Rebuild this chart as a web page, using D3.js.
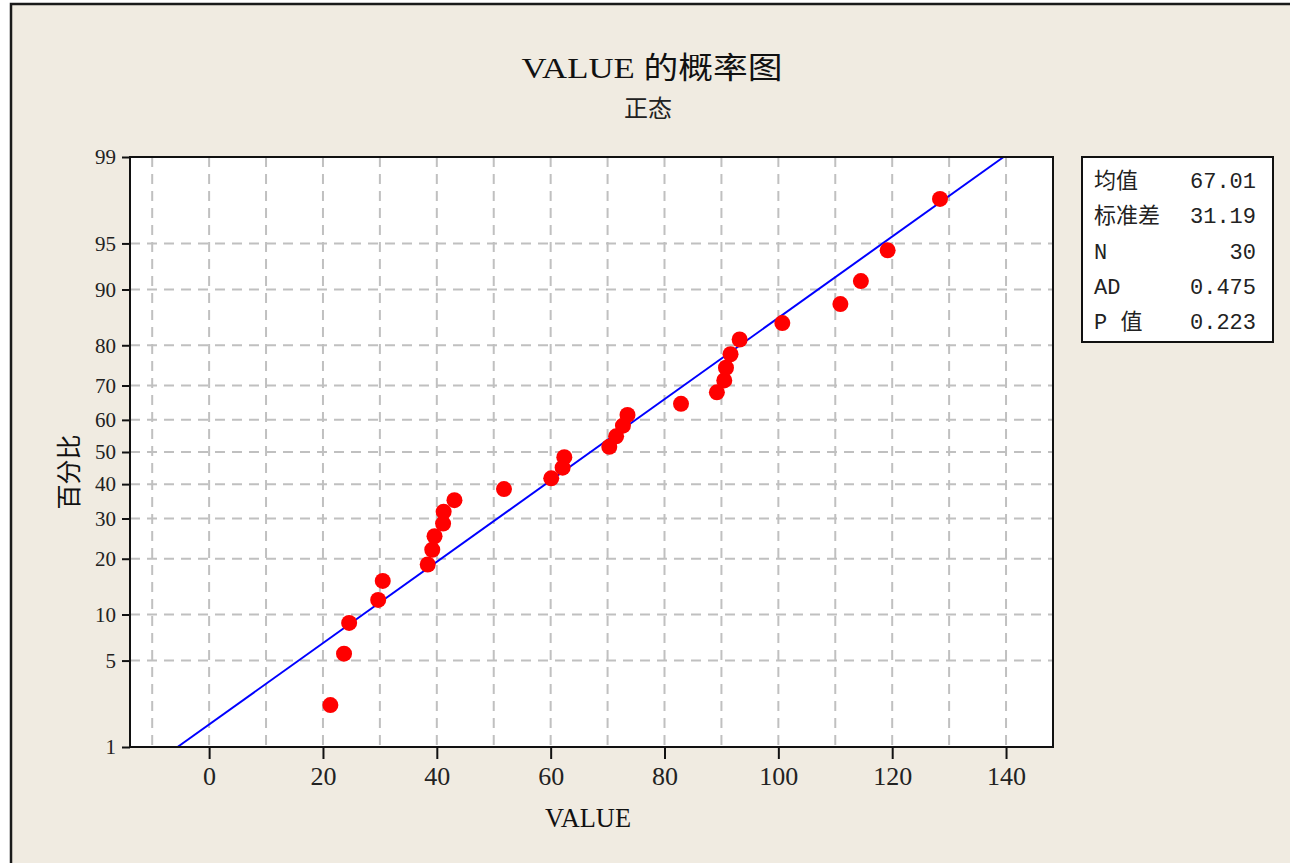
<!DOCTYPE html>
<html>
<head>
<meta charset="utf-8">
<script src="https://cdn.jsdelivr.net/npm/d3@7"></script>
<style>
  body { margin: 0; background: #fff; }
  svg { display: block; }
</style>
</head>
<body>
<div id="chart"></div>
<script>
const values = [21.3, 23.7, 24.6, 29.7, 30.5, 38.4, 39.2, 39.6, 41.1, 41.2,
                43.1, 51.8, 60.1, 62.1, 62.4, 70.3, 71.5, 72.7, 73.5, 82.9,
                89.2, 90.5, 90.8, 91.6, 93.2, 100.7, 110.9, 114.5, 119.2, 128.4];
// plotted percentages (median ranks)
const percents = [2.30, 5.59, 8.88, 12.17, 15.46, 18.75, 22.04, 25.33, 28.62, 31.91,
                  35.20, 38.49, 41.78, 45.07, 48.36, 51.64, 54.93, 58.22, 61.51, 64.80,
                  68.09, 71.38, 74.67, 77.96, 81.25, 84.54, 87.83, 91.12, 94.41, 97.70];
const xTicks = [0, 20, 40, 60, 80, 100, 120, 140];
const xGrid = [-10, 0, 10, 20, 30, 40, 50, 60, 70, 80, 90, 100, 110, 120, 130, 140];
const yTicks = [1, 5, 10, 20, 30, 40, 50, 60, 70, 80, 90, 95, 99];
const yGrid = [5, 10, 20, 30, 40, 50, 60, 70, 80, 90, 95];
const fitMean = 67.01, fitSd = 31.19;
const fitPercents = [1, 99];
const statLabels = ["均值", "标准差", "N", "AD", "P 值"];
const statValues = ["67.01", "31.19", "30", "0.475", "0.223"];

// inverse normal cdf (Acklam)
function probit(p) {
  const a = [-3.969683028665376e+01, 2.209460984245205e+02, -2.759285104469687e+02, 1.383577518672690e+02, -3.066479806614716e+01, 2.506628277459239e+00];
  const b = [-5.447609879822406e+01, 1.615858368580409e+02, -1.556989798598866e+02, 6.680131188771720e+01, -1.328068155288572e+01];
  const c = [-7.784894002430293e-03, -3.223964580411365e-01, -2.400758277161838e+00, -2.549732539343734e+00, 4.374664141464968e+00, 2.938163982698783e+00];
  const d = [7.784695709041462e-03, 3.224671290700398e-01, 2.445134137142996e+00, 3.754408661907416e+00];
  const plow = 0.02425;
  let q, r;
  if (p < plow) {
    q = Math.sqrt(-2 * Math.log(p));
    return (((((c[0]*q+c[1])*q+c[2])*q+c[3])*q+c[4])*q+c[5]) / ((((d[0]*q+d[1])*q+d[2])*q+d[3])*q+1);
  }
  if (p > 1 - plow) {
    q = Math.sqrt(-2 * Math.log(1 - p));
    return -(((((c[0]*q+c[1])*q+c[2])*q+c[3])*q+c[4])*q+c[5]) / ((((d[0]*q+d[1])*q+d[2])*q+d[3])*q+1);
  }
  q = p - 0.5; r = q * q;
  return (((((a[0]*r+a[1])*r+a[2])*r+a[3])*r+a[4])*r+a[5])*q / (((((b[0]*r+b[1])*r+b[2])*r+b[3])*r+b[4])*r+1);
}

const W = 1290, H = 863;
const plot = {left: 130, top: 157, right: 1053, bottom: 747};

const svg = d3.select("#chart")
  .append("svg")
    .attr("width", W)
    .attr("height", H);

// graph window
svg.append("rect")
    .attr("x", 11).attr("y", 4)
    .attr("width", W + 20).attr("height", H + 20)
    .attr("fill", "#f0ebe1")
    .attr("stroke", "#1a1a1a")
    .attr("stroke-width", 2.5);

const x = d3.scaleLinear()
    .domain([-13.9, 148.25])
    .range([plot.left, plot.right]);

const yz = d3.scaleLinear()
    .domain([probit(0.01), probit(0.99)])
    .range([plot.bottom, plot.top]);
const y = p => yz(probit(p / 100));

svg.append("rect")
    .attr("x", plot.left).attr("y", plot.top)
    .attr("width", plot.right - plot.left)
    .attr("height", plot.bottom - plot.top)
    .attr("fill", "#fff");

// grid
svg.append("g")
  .selectAll("line")
  .data(xGrid)
  .join("line")
    .attr("x1", d => x(d)).attr("x2", d => x(d))
    .attr("y1", plot.top).attr("y2", plot.bottom)
    .attr("stroke", "#c0c0c0")
    .attr("stroke-width", 2)
    .attr("stroke-dasharray", "10,7");

svg.append("g")
  .selectAll("line")
  .data(yGrid)
  .join("line")
    .attr("x1", plot.left).attr("x2", plot.right)
    .attr("y1", d => y(d)).attr("y2", d => y(d))
    .attr("stroke", "#c0c0c0")
    .attr("stroke-width", 2)
    .attr("stroke-dasharray", "10,7");

// fitted line
svg.append("path")
    .datum(fitPercents)
    .attr("d", d3.line()
        .x(p => x(fitMean + fitSd * probit(p / 100)))
        .y(p => y(p)))
    .attr("fill", "none")
    .attr("stroke", "#0000ff")
    .attr("stroke-width", 2);

// points
svg.append("g")
  .selectAll("circle")
  .data(values)
  .join("circle")
    .attr("cx", d => x(d))
    .attr("cy", (d, i) => y(percents[i]))
    .attr("r", 8)
    .attr("fill", "#ff0000");

// frame
svg.append("rect")
    .attr("x", plot.left).attr("y", plot.top)
    .attr("width", plot.right - plot.left)
    .attr("height", plot.bottom - plot.top)
    .attr("fill", "none")
    .attr("stroke", "#111")
    .attr("stroke-width", 2);

// axes
const xAxis = svg.append("g")
    .attr("transform", `translate(0,${plot.bottom})`)
    .call(d3.axisBottom(x).tickValues(xTicks).tickSize(12).tickSizeOuter(0).tickPadding(8));
xAxis.select(".domain").remove();
xAxis.selectAll(".tick line").attr("stroke", "#111").attr("stroke-width", 2);
xAxis.selectAll(".tick text")
    .attr("fill", "#222")
    .style("font-family", "'Liberation Serif', serif")
    .style("font-size", "26px");

const yAxis = svg.append("g")
    .attr("transform", `translate(${plot.left},0)`)
    .call(d3.axisLeft(yz)
        .tickValues(yTicks.map(p => probit(p / 100)))
        .tickFormat((d, i) => yTicks[i])
        .tickSize(8).tickSizeOuter(0).tickPadding(6));
yAxis.select(".domain").remove();
yAxis.selectAll(".tick line").attr("stroke", "#111").attr("stroke-width", 2);
yAxis.selectAll(".tick text")
    .attr("fill", "#222")
    .style("font-family", "'Liberation Serif', serif")
    .style("font-size", "21px");

// titles
svg.append("text")
    .attr("x", 652).attr("y", 78)
    .attr("text-anchor", "middle")
    .attr("textLength", 261)
    .attr("lengthAdjust", "spacingAndGlyphs")
    .style("font-family", "'Liberation Serif', 'Noto Sans CJK SC', serif")
    .style("font-size", "30px")
    .attr("fill", "#111")
    .text("VALUE 的概率图");

svg.append("text")
    .attr("x", 648).attr("y", 117)
    .attr("text-anchor", "middle")
    .style("font-family", "'Noto Sans CJK SC', sans-serif")
    .style("font-size", "24px")
    .attr("fill", "#222")
    .text("正态");

svg.append("text")
    .attr("x", 588).attr("y", 827)
    .attr("text-anchor", "middle")
    .attr("textLength", 86)
    .attr("lengthAdjust", "spacingAndGlyphs")
    .style("font-family", "'Liberation Serif', serif")
    .style("font-size", "28px")
    .attr("fill", "#111")
    .text("VALUE");

svg.append("text")
    .attr("transform", "translate(78,472) rotate(-90)")
    .attr("text-anchor", "middle")
    .style("font-family", "'Noto Sans CJK SC', sans-serif")
    .style("font-size", "25px")
    .attr("fill", "#111")
    .text("百分比");

// stats box
const box = svg.append("g");
box.append("rect")
    .attr("x", 1082).attr("y", 157)
    .attr("width", 191).attr("height", 185)
    .attr("fill", "#fff")
    .attr("stroke", "#111")
    .attr("stroke-width", 2);

box.selectAll("text.lab")
  .data(statLabels)
  .join("text")
    .attr("class", "lab")
    .attr("x", 1094)
    .attr("y", (d, i) => 188 + i * 35.3)
    .style("font-family", "'Liberation Mono', 'Noto Sans CJK SC', monospace")
    .style("font-size", "22px")
    .attr("fill", "#222")
    .text(d => d);

box.selectAll("text.val")
  .data(statValues)
  .join("text")
    .attr("class", "val")
    .attr("x", 1256)
    .attr("y", (d, i) => 188 + i * 35.3)
    .attr("text-anchor", "end")
    .style("font-family", "'Liberation Mono', monospace")
    .style("font-size", "22px")
    .attr("fill", "#222")
    .text(d => d);
</script>
</body>
</html>
